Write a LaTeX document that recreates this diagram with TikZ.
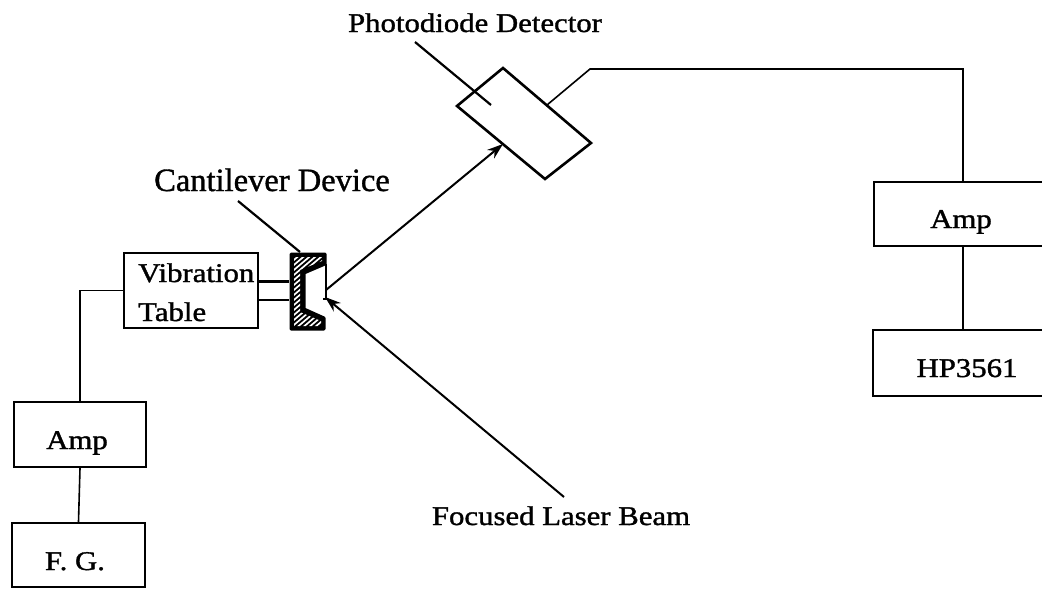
\documentclass[tikz,border=0pt]{standalone}
\usepackage{fontspec}
\setmainfont{Liberation Serif}
\newfontfamily\lblfont[FakeStretch=1.14,FakeBold=1.3]{Liberation Serif}
\newfontfamily\bigfont[FakeBold=1.1]{Liberation Serif}
\usetikzlibrary{arrows.meta}
\begin{document}
\begin{tikzpicture}[x=1pt,y=-1pt,
  boxnode/.style={draw=black,line width=2.4pt,inner sep=0pt,anchor=center},
  wire/.style={draw=black,line width=1.6pt},
  wirethick/.style={draw=black,line width=2pt},
  lead/.style={draw=black,line width=2.2pt},
  beam/.style={draw=black,line width=2pt,-{Stealth[length=16pt,width=11pt]}},
  lbl/.style={inner sep=0pt,anchor=base,font=\lblfont\fontsize{27}{30}\selectfont}]
\useasboundingbox (0,0) rectangle (1042,589);
\fill[white] (0,0) rectangle (1042,589);
% boxes
\node[boxnode,minimum width=134pt,minimum height=75pt] (vib) at (191,290.5) {};
\node[lbl,anchor=base west] (vibA) at (138,282) {Vibration};
\node[lbl,anchor=base west] (vibB) at (138,321) {Table};
\node[boxnode,minimum width=132pt,minimum height=65pt] (ampL) at (80,434.5) {};
\node[lbl] (ampLt) at (77,449) {Amp};
\node[boxnode,minimum width=133pt,minimum height=64pt] (fg) at (78.5,555) {};
\node[lbl] (fgt) at (75,570) {F. G.};
\node[boxnode,minimum width=178pt,minimum height=64pt] (ampR) at (963,214) {};
\node[lbl] (ampRt) at (961,228) {Amp};
\node[boxnode,minimum width=180pt,minimum height=66pt] (hp) at (963,363) {};
\node[lbl] (hpt) at (967,377) {HP3561};
% photodiode
\coordinate (pT) at (503,68);
\coordinate (pL) at (457,106);
\coordinate (pB) at (545,179);
\coordinate (pR) at (591,143);
\draw[line width=2.6pt,line join=miter] (pT) -- (pL) -- (pB) -- (pR) -- cycle;
\coordinate (pWire) at (547,105);
\coordinate (pIn) at (503,144);
\coordinate (pLeadEnd) at (491,105);
\coordinate (pLeadStart) at (415,42);
\coordinate (wBend) at (590,69);
% cantilever
\coordinate (c1) at (291,254);
\coordinate (c2) at (325,254);
\coordinate (c3) at (325,264);
\coordinate (c4) at (304,273);
\coordinate (c5) at (304,309);
\coordinate (c6) at (324,318);
\coordinate (c7) at (324,329);
\coordinate (c8) at (291,329);
\coordinate (cTip) at (325,297);
\coordinate (cOut) at (326,290);
\coordinate (cTop) at (300,252);
\coordinate (cA) at (289,281.5);
\coordinate (cB) at (289,300);
\draw[line width=2pt] (326,264) -- (326,299) -- (323,299);
\fill[black,draw=black,line width=3pt,line join=round] (c1)--(c2)--(c3)--(c4)--(c5)--(c6)--(c7)--(c8)--cycle;
\begin{scope}
\clip (294,257) -- (322,257) -- (322,261) -- (300,270) -- (300,312) -- (321,321) -- (321,326) -- (294,326) -- cycle;
\foreach \k in {0,5,...,90}{\draw[white,line width=1.7pt] (288,{260+\k}) -- (328,{260+\k-34});}
\end{scope}
% connectors
\draw[wire] (vib.west) -| (ampL.north);
\draw[wire] (ampL.south) -- (fg.north);
\draw[wire] (pWire) -- (wBend) -- (wBend -| ampR.north) -- (ampR.north);
\draw[wirethick] (ampR.south) -- (hp.north);
\draw[lead] (vib.east |- cA) -- (cA);
\draw[lead] (vib.east |- cB) -- (cB);
\draw[lead] (pLeadStart) -- (pLeadEnd);
% labels
\node[lbl] (pdl) at (475,32) {Photodiode Detector};
\node[lbl,font=\bigfont\fontsize{32.5}{36}\selectfont] (cdl) at (272,191) {Cantilever Device};
\node[lbl] (lbl3) at (561,525) {Focused Laser Beam};
\coordinate (cLeadStart) at (238,201);
\coordinate (lStart) at (564,497);
\draw[lead] (cLeadStart) -- (cTop);
\draw[beam] (cOut) -- (pIn);
\draw[beam] (lStart) -- (cTip);
\end{tikzpicture}
\end{document}
